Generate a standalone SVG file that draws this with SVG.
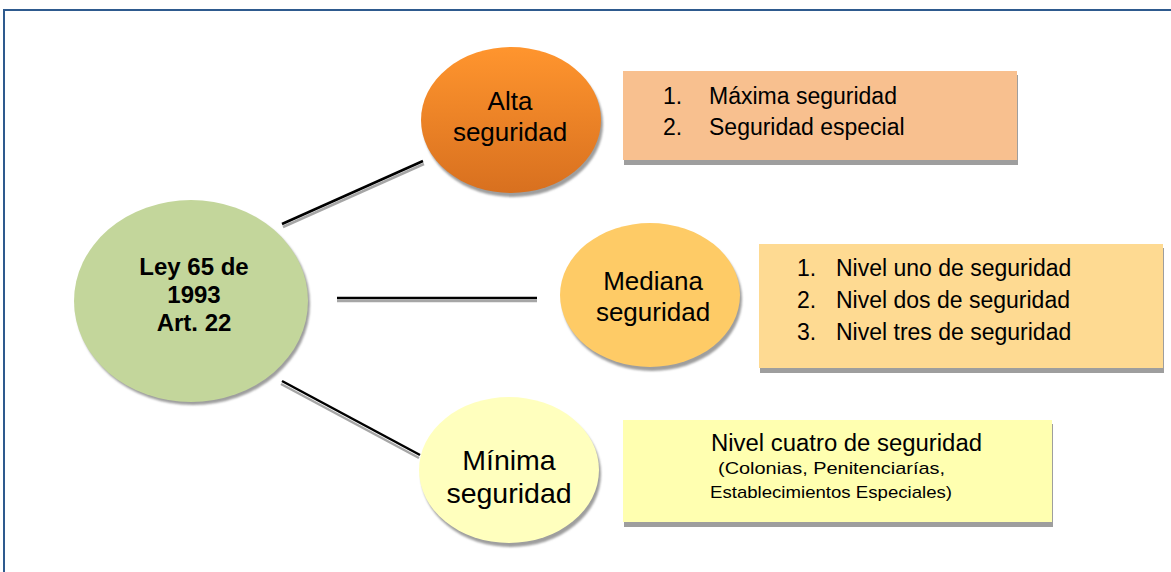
<svg xmlns="http://www.w3.org/2000/svg" width="1171" height="572" viewBox="0 0 1171 572">
<style>
text{font-family:"Liberation Sans",Arial,sans-serif;fill:#000}
.c{text-anchor:middle}
.node{font-size:26px}
.item{font-size:23px}
.bold{font-size:24px;font-weight:bold}
.shadow{fill:#9e9e9e}
.conn{stroke:#000;stroke-width:2.5;fill:none}
.connS{stroke:#a6a6a6;stroke-width:2.5;fill:none}
</style>
<defs>
<linearGradient id="gAlta" x1="0" y1="0" x2="0" y2="1">
<stop offset="0" stop-color="#FF952E"/><stop offset="1" stop-color="#D8701F"/>
</linearGradient>
<filter id="blur" x="-10%" y="-10%" width="120%" height="120%"><feGaussianBlur stdDeviation="1.2"/></filter>
</defs>
<rect x="4" y="10" width="1200" height="600" fill="#fff" stroke="#2E5A8E" stroke-width="2"/>
<g id="connectors">
<line class="connS" x1="283" y1="227" x2="424" y2="164"/>
<line class="conn" x1="282" y1="224" x2="423" y2="161"/>
<line class="connS" x1="337" y1="301" x2="537" y2="301"/>
<line class="conn" x1="337" y1="298" x2="537" y2="298"/>
<line class="connS" x1="281" y1="384" x2="419" y2="458"/>
<line class="conn" x1="282" y1="381" x2="420" y2="455"/>
</g>
<g id="ley">
<ellipse class="shadow" cx="193" cy="304" rx="117" ry="101" filter="url(#blur)"/>
<ellipse cx="191" cy="301" rx="117" ry="101" fill="#C3D69B"/>
<text class="c bold" x="194" y="275">Ley 65 de</text>
<text class="c bold" x="194" y="303">1993</text>
<text class="c bold" x="194" y="331">Art. 22</text>
</g>
<g id="alta">
<ellipse class="shadow" cx="513" cy="124" rx="90" ry="73" filter="url(#blur)"/>
<ellipse cx="511" cy="120" rx="90" ry="73" fill="url(#gAlta)"/>
<text class="c node" x="510" y="110">Alta</text>
<text class="c node" x="510" y="141">seguridad</text>
</g>
<g id="alta-list">
<rect class="shadow" x="624" y="75" width="394" height="90"/>
<rect x="623" y="71" width="394" height="89" fill="#F8C08F"/>
<text class="item" x="663" y="104">1.</text>
<text class="item" x="709" y="104">Máxima seguridad</text>
<text class="item" x="663" y="135">2.</text>
<text class="item" x="709" y="135">Seguridad especial</text>
</g>
<g id="mediana">
<ellipse class="shadow" cx="652" cy="299" rx="90" ry="72" filter="url(#blur)"/>
<ellipse cx="650" cy="295" rx="90" ry="72" fill="#FECB66"/>
<text class="c node" x="653" y="290">Mediana</text>
<text class="c node" x="653" y="321">seguridad</text>
</g>
<g id="mediana-list">
<rect class="shadow" x="760" y="248" width="404" height="125"/>
<rect x="759" y="244" width="404" height="124" fill="#FEDA92"/>
<text class="item" x="797" y="276">1.</text>
<text class="item" x="836" y="276">Nivel uno de seguridad</text>
<text class="item" x="797" y="308">2.</text>
<text class="item" x="836" y="308">Nivel dos de seguridad</text>
<text class="item" x="797" y="340">3.</text>
<text class="item" x="836" y="340">Nivel tres de seguridad</text>
</g>
<g id="minima">
<ellipse class="shadow" cx="511" cy="474" rx="90" ry="73" filter="url(#blur)"/>
<ellipse cx="509" cy="470" rx="90" ry="73" fill="#FFFFBE"/>
<text class="c" x="509" y="470" font-size="28.5">Mínima</text>
<text class="c" x="509" y="503" font-size="28.5">seguridad</text>
</g>
<g id="minima-list">
<rect class="shadow" x="624" y="424" width="429" height="103"/>
<rect x="623" y="420" width="429" height="102" fill="#FFFFB0"/>
<text x="711" y="451" font-size="23" textLength="271" lengthAdjust="spacingAndGlyphs">Nivel cuatro de seguridad</text>
<text x="718" y="474" font-size="17" textLength="227" lengthAdjust="spacingAndGlyphs">(Colonias, Penitenciarías,</text>
<text x="710" y="498" font-size="17" textLength="242" lengthAdjust="spacingAndGlyphs">Establecimientos Especiales)</text>
</g>
</svg>
